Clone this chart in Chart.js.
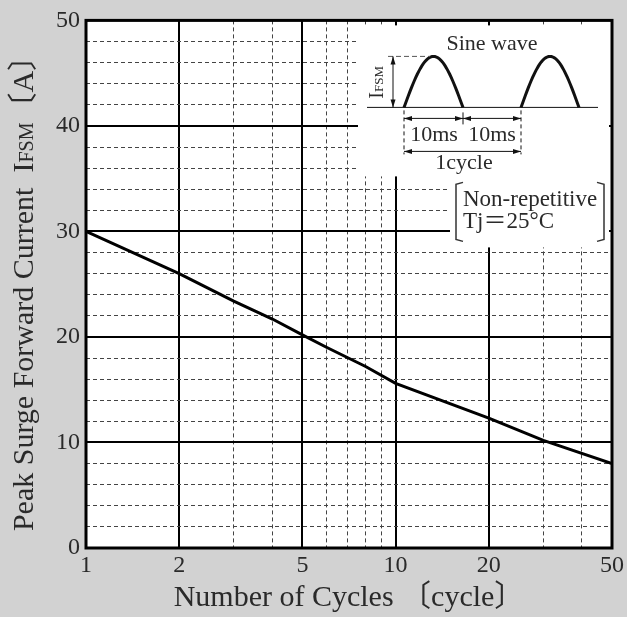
<!DOCTYPE html>
<html>
<head>
<meta charset="utf-8">
<script src="https://cdn.jsdelivr.net/npm/chart.js@4.4.0/dist/chart.umd.min.js"></script>
<style>
    html, body { margin: 0; padding: 0; background: #d2d2d2; }
    canvas { display: block; }
</style>
</head>
<body>
<canvas id="surgeChart" width="627" height="617"></canvas>
<script>
// values
const cycles = [1, 2, 3, 4, 5, 6, 8, 10, 20, 30, 50];
const surgeCurrent = [30, 26, 23.4, 21.7, 20.2, 19.0, 17.2, 15.6, 12.3, 10.2, 8.0];

const xMajorTicks = [1, 2, 5, 10, 20, 50];
const xMinorTicks = [3, 4, 6, 7, 8, 9, 30, 40];
const yMajorTicks = [0, 10, 20, 30, 40, 50];
const yMinorTicks = [2, 4, 6, 8, 12, 14, 16, 18, 22, 24, 26, 28, 32, 34, 36, 38, 42, 44, 46, 48];

const serif = "'Liberation Serif', 'Noto Sans CJK JP', serif";
const textColor = '#2a2a2a';

// arrow line with heads on both ends
function dimArrow(ctx, x1, y1, x2, y2) {
    const ang = Math.atan2(y2 - y1, x2 - x1);
    ctx.beginPath();
    ctx.moveTo(x1, y1);
    ctx.lineTo(x2, y2);
    ctx.stroke();
    [[x1, y1, ang + Math.PI], [x2, y2, ang]].forEach(([x, y, a]) => {
        ctx.beginPath();
        ctx.moveTo(x, y);
        ctx.lineTo(x - 8 * Math.cos(a) + 2.5 * Math.sin(a), y - 8 * Math.sin(a) - 2.5 * Math.cos(a));
        ctx.lineTo(x - 8 * Math.cos(a) - 2.5 * Math.sin(a), y - 8 * Math.sin(a) + 2.5 * Math.cos(a));
        ctx.closePath();
        ctx.fill();
    });
}

function halfSine(ctx, x0, x1, base, peak) {
    ctx.beginPath();
    for (let i = 0; i <= 40; i++) {
        const t = i / 40;
        const px = x0 + (x1 - x0) * t;
        const py = base - (base - peak) * Math.sin(Math.PI * t);
        if (i === 0) ctx.moveTo(px, py); else ctx.lineTo(px, py);
    }
    ctx.stroke();
}

// mixed size text run (for I + small FSM)
function drawRun(ctx, parts, x, y, rotate, centered) {
    ctx.save();
    ctx.translate(x, y);
    if (rotate) ctx.rotate(-Math.PI / 2);
    let total = 0;
    parts.forEach(p => { ctx.font = p.s + 'px ' + serif; p.w = ctx.measureText(p.t).width; total += p.w; });
    let cx = centered ? -total / 2 : 0;
    ctx.textAlign = 'left';
    ctx.textBaseline = 'alphabetic';
    parts.forEach(p => { ctx.font = p.s + 'px ' + serif; ctx.fillText(p.t, cx, 0); cx += p.w; });
    ctx.restore();
}

const plotBackground = {
    id: 'plotBackground',
    beforeDraw(chart) {
        const {ctx, chartArea: a} = chart;
        ctx.save();
        ctx.fillStyle = '#ffffff';
        ctx.fillRect(a.left, a.top, a.right - a.left, a.bottom - a.top);
        ctx.restore();
    }
};

const insetAndFrame = {
    id: 'insetAndFrame',
    afterDraw(chart) {
        const {ctx, chartArea: a} = chart;
        const L = a.left, T = a.top;
        ctx.save();

        // white boxes behind the inset
        ctx.fillStyle = '#ffffff';
        ctx.fillRect(L + 272, T + 5, 251, 151);
        ctx.fillRect(L + 364, T + 155, 159, 72);

        ctx.strokeStyle = '#111';
        ctx.fillStyle = '#111';

        // base line
        ctx.lineWidth = 1;
        ctx.beginPath();
        ctx.moveTo(L + 281, T + 87);
        ctx.lineTo(L + 512, T + 87);
        ctx.stroke();

        // sine humps
        ctx.lineWidth = 3;
        halfSine(ctx, L + 318, L + 377, T + 87, T + 36);
        halfSine(ctx, L + 435, L + 493, T + 87, T + 36);

        // peak dashed guide
        ctx.lineWidth = 1;
        ctx.strokeStyle = '#555';
        ctx.setLineDash([5, 3]);
        ctx.beginPath();
        ctx.moveTo(L + 302, T + 36);
        ctx.lineTo(L + 344, T + 36);
        ctx.stroke();
        ctx.setLineDash([]);
        ctx.strokeStyle = '#111';

        // IFSM arrow
        dimArrow(ctx, L + 307, T + 36, L + 307, T + 87);

        // dimension ticks
        ctx.setLineDash([4, 3]);
        ctx.beginPath();
        ctx.moveTo(L + 318, T + 90); ctx.lineTo(L + 318, T + 134);
        ctx.moveTo(L + 435, T + 90); ctx.lineTo(L + 435, T + 134);
        ctx.stroke();
        ctx.setLineDash([]);
        ctx.beginPath();
        ctx.moveTo(L + 377, T + 92); ctx.lineTo(L + 377, T + 104);
        ctx.stroke();

        dimArrow(ctx, L + 318, T + 98, L + 377, T + 98);
        dimArrow(ctx, L + 377, T + 98, L + 435, T + 98);
        dimArrow(ctx, L + 318, T + 131, L + 435, T + 131);

        // inset texts
        ctx.fillStyle = textColor;
        ctx.textAlign = 'center';
        ctx.textBaseline = 'middle';
        ctx.font = '22px ' + serif;
        ctx.fillText('Sine wave', L + 406, T + 24);
        ctx.fillText('10ms', L + 348, T + 115);
        ctx.fillText('10ms', L + 406, T + 115);
        ctx.fillText('1cycle', L + 378, T + 143);

        drawRun(ctx, [{t: 'I', s: 20}, {t: 'FSM', s: 13}], L + 297, T + 62, true, true);

        ctx.textAlign = 'left';
        ctx.font = '23px ' + serif;
        ctx.fillText('Non-repetitive', L + 377, T + 180);
        ctx.fillText('Tj\uFF1D25\u00B0C', L + 377, T + 202);

        // brackets
        ctx.strokeStyle = '#333';
        ctx.lineWidth = 1.5;
        ctx.beginPath();
        ctx.moveTo(L + 377, T + 162); ctx.lineTo(L + 370, T + 164);
        ctx.lineTo(L + 370, T + 219); ctx.lineTo(L + 377, T + 221);
        ctx.moveTo(L + 511, T + 162); ctx.lineTo(L + 518, T + 164);
        ctx.lineTo(L + 518, T + 219); ctx.lineTo(L + 511, T + 221);
        ctx.stroke();

        // plot frame
        ctx.strokeStyle = '#000';
        ctx.lineWidth = 3;
        ctx.strokeRect(a.left, a.top, a.right - a.left, a.bottom - a.top);

        // y axis title with small caps subscript
        ctx.fillStyle = textColor;
        drawRun(ctx, [
            {t: 'Peak Surge Forward Current  ', s: 30},
            {t: 'I', s: 30},
            {t: 'FSM', s: 20},
            {t: '\u3014A\u3015', s: 30}
        ], 33, 286, true, true);

        ctx.restore();
    }
};

const ctx = document.getElementById('surgeChart').getContext('2d');
new Chart(ctx, {
    type: 'line',
    data: {
        datasets: [{
            label: 'IFSM',
            data: cycles.map((c, i) => ({x: c, y: surgeCurrent[i]})),
            borderColor: '#000',
            borderWidth: 3,
            pointRadius: 0,
            tension: 0,
            xAxisID: 'x',
            yAxisID: 'y'
        }]
    },
    options: {
        responsive: false,
        animation: false,
        devicePixelRatio: 1,
        layout: { padding: { top: 16, right: 13, left: 0, bottom: 0 } },
        plugins: {
            legend: { display: false },
            tooltip: { enabled: false }
        },
        scales: {
            x: {
                type: 'logarithmic',
                position: 'bottom',
                min: 1,
                max: 50,
                afterBuildTicks: s => { s.ticks = xMajorTicks.map(v => ({value: v})); },
                afterFit: s => { s.height = 69; },
                ticks: {
                    callback: v => String(v),
                    color: textColor,
                    font: { family: serif, size: 24 },
                    padding: 3,
                    maxRotation: 0,
                    autoSkip: false
                },
                grid: {
                    drawTicks: false,
                    lineWidth: 2,
                    color: c => (c.tick && (c.tick.value === 1 || c.tick.value === 50)) ? 'rgba(0,0,0,0)' : '#000'
                },
                border: { display: false },
                title: {
                    display: true,
                    text: 'Number of Cycles \u3014cycle\u3015',
                    color: textColor,
                    font: { family: serif, size: 30 },
                    padding: { top: 0, bottom: 1 }
                }
            },
            xMinor: {
                type: 'logarithmic',
                position: 'bottom',
                min: 1,
                max: 50,
                afterBuildTicks: s => { s.ticks = xMinorTicks.map(v => ({value: v})); },
                afterFit: s => { s.height = 0; },
                ticks: { display: false },
                grid: { drawTicks: false, lineWidth: 1, color: '#444' },
                border: { display: false, dash: [4, 3] }
            },
            y: {
                type: 'linear',
                position: 'left',
                min: 0,
                max: 50,
                afterBuildTicks: s => { s.ticks = yMajorTicks.map(v => ({value: v})); },
                afterFit: s => { s.width = 86; },
                ticks: {
                    color: textColor,
                    font: { family: serif, size: 24 },
                    padding: 6
                },
                grid: {
                    drawTicks: false,
                    lineWidth: 2,
                    color: c => (c.tick && (c.tick.value === 0 || c.tick.value === 50)) ? 'rgba(0,0,0,0)' : '#000'
                },
                border: { display: false }
            },
            yMinor: {
                type: 'linear',
                position: 'left',
                min: 0,
                max: 50,
                afterBuildTicks: s => { s.ticks = yMinorTicks.map(v => ({value: v})); },
                afterFit: s => { s.width = 0; },
                ticks: { display: false },
                grid: { drawTicks: false, lineWidth: 1, color: '#444' },
                border: { display: false, dash: [4, 3] }
            }
        }
    },
    plugins: [plotBackground, insetAndFrame]
});
</script>
</body>
</html>
